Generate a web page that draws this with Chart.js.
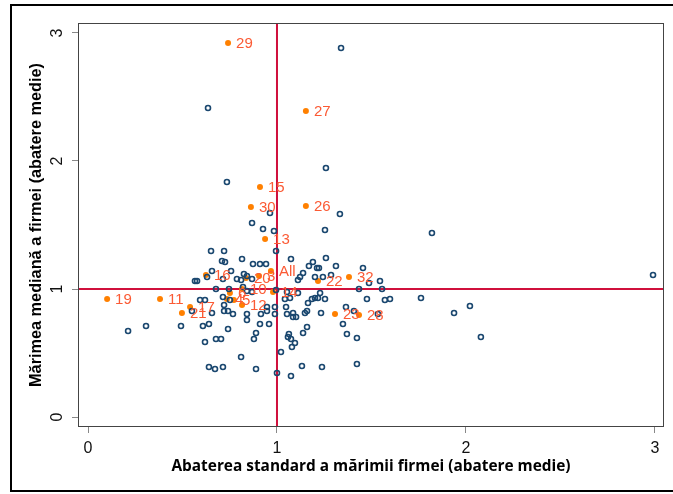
<!DOCTYPE html>
<html>
<head>
<meta charset="utf-8">
<script src="https://cdn.jsdelivr.net/npm/chart.js@4.4.1/dist/chart.umd.min.js"></script>
<style>
  body { margin: 0; background: #fff; }
  #wrap { width: 673px; height: 494px; }
</style>
</head>
<body>
<div id="wrap"><canvas id="myChart" width="673" height="494"></canvas></div>
<script>
// axis ticks and reference lines (mean = 1)
const xTicks = [0, 1, 2, 3];
const yTicks = [0, 1, 2, 3];
const refX = 1;
const refY = 1;

// all firms / industries (hollow navy circles)
const firmX = [1.339, 0.635, 1.259, 0.735, 1.333, 0.963, 0.868, 0.926, 0.984, 1.820, 2.990, 1.762, 1.937, 2.021, 2.079, 0.212, 0.307, 0.492, 0.995, 1.074, 1.254,
  0.651, 0.720, 0.815, 0.709, 0.725, 0.656, 0.757, 0.873, 0.910, 0.942, 0.825, 0.841, 0.868, 0.788, 0.810, 0.714, 0.566, 0.577, 0.630, 0.677,
  0.746, 0.820, 0.841, 0.868, 0.593, 0.619, 0.714, 0.751, 0.720, 0.550, 0.656, 0.720, 0.741, 0.767, 0.841, 0.915, 0.947, 0.989, 0.947, 0.989,
  0.608, 0.640, 0.741, 0.841, 0.910, 0.958, 0.889, 0.677, 0.704, 0.619, 0.878, 0.810, 0.640, 0.672, 0.714, 0.889, 1.000,
  1.169, 1.190, 1.212, 1.222, 1.259, 1.312, 1.455, 1.138, 1.122, 1.111, 1.201, 1.243, 1.286, 1.487, 1.545, 1.434, 1.556, 1.111, 1.228, 1.053,
  1.069, 1.042, 1.164, 1.185, 1.201, 1.217, 1.254, 1.476, 1.571, 1.598, 1.048, 1.159, 1.148, 1.085, 1.053, 1.101, 1.085, 1.233, 1.365, 1.407,
  1.534, 1.349, 1.159, 1.063, 1.138, 1.058, 1.074, 1.095, 1.079, 1.370, 1.423, 1.021, 1.132, 1.238, 1.423, 1.074, 0.995];
const firmY = [2.883, 2.414, 1.945, 1.836, 1.586, 1.594, 1.516, 1.469, 1.453, 1.438, 1.109, 0.930, 0.813, 0.867, 0.625, 0.672, 0.711, 0.711, 1.297, 1.234, 1.461,
  1.297, 1.297, 1.234, 1.219, 1.211, 1.141, 1.141, 1.195, 1.195, 1.195, 1.117, 1.102, 1.078, 1.078, 1.070, 1.078, 1.063, 1.063, 1.094, 1.000,
  1.000, 1.016, 0.984, 0.977, 0.914, 0.914, 0.938, 0.914, 0.875, 0.828, 0.813, 0.828, 0.828, 0.805, 0.805, 0.805, 0.859, 0.859, 0.828, 0.805,
  0.711, 0.727, 0.688, 0.758, 0.727, 0.727, 0.656, 0.609, 0.609, 0.586, 0.609, 0.469, 0.391, 0.375, 0.391, 0.375, 0.344,
  1.180, 1.211, 1.164, 1.164, 1.242, 1.180, 1.164, 1.125, 1.094, 1.070, 1.094, 1.094, 1.109, 1.047, 1.063, 1.000, 1.000, 0.969, 0.969, 0.977,
  0.930, 0.922, 0.891, 0.922, 0.930, 0.930, 0.922, 0.922, 0.914, 0.922, 0.859, 0.828, 0.813, 0.813, 0.805, 0.781, 0.781, 0.813, 0.859, 0.828,
  0.805, 0.727, 0.703, 0.648, 0.656, 0.625, 0.609, 0.578, 0.547, 0.648, 0.617, 0.508, 0.398, 0.391, 0.414, 0.320, 0.992];

// labelled groups (orange dots)
const groupLabels = ["29", "27", "15", "30", "26", "13", "16", "20", "3", "All", "22", "32", "14", "10", "19", "11", "17", "21", "23", "28", "12", "4", "5", "6"];
const groupX = [0.741, 1.153, 0.910, 0.862, 1.153, 0.937, 0.624, 0.836, 0.905, 0.968, 1.217, 1.381, 0.979, 0.815, 0.101, 0.381, 0.540, 0.497, 1.307, 1.434, 0.815, 0.735, 0.772, 0.751];
const groupY = [2.922, 2.391, 1.797, 1.641, 1.648, 1.391, 1.109, 1.086, 1.102, 1.141, 1.063, 1.094, 0.977, 1.000, 0.922, 0.922, 0.859, 0.813, 0.805, 0.797, 0.875, 0.922, 0.914, 0.969];

const navy = "#1a476f";
const orange = "#ff8000";
const labelColor = "#fb5a34";
const refColor = "#d0103c";

const framePlugin = {
  id: "frame",
  afterDraw(chart) {
    const ctx = chart.ctx;
    ctx.save();
    ctx.strokeStyle = "#000";
    ctx.lineWidth = 2;
    ctx.strokeRect(11, 5, 690, 486);
    const a = chart.chartArea;
    ctx.strokeStyle = "#444";
    ctx.lineWidth = 1;
    ctx.strokeRect(a.left + 0.5, a.top + 0.5, a.right - a.left - 1, a.bottom - a.top - 1);
    ctx.restore();
  }
};

const refLines = {
  id: "refLines",
  beforeDatasetsDraw(chart) {
    const ctx = chart.ctx;
    const a = chart.chartArea;
    const px = chart.scales.x.getPixelForValue(refX);
    const py = chart.scales.y.getPixelForValue(refY);
    ctx.save();
    ctx.strokeStyle = refColor;
    ctx.lineWidth = 2;
    ctx.beginPath();
    ctx.moveTo(px, a.top);
    ctx.lineTo(px, a.bottom);
    ctx.moveTo(a.left, py);
    ctx.lineTo(a.right, py);
    ctx.stroke();
    ctx.restore();
  }
};

const pointLabels = {
  id: "pointLabels",
  afterDatasetsDraw(chart) {
    const ctx = chart.ctx;
    const meta = chart.getDatasetMeta(1);
    ctx.save();
    ctx.font = "15px 'Liberation Sans', Arial, sans-serif";
    ctx.fillStyle = labelColor;
    ctx.textBaseline = "middle";
    ctx.textAlign = "left";
    meta.data.forEach((pt, i) => {
      ctx.fillText(groupLabels[i], pt.x + 8, pt.y + 1);
    });
    ctx.restore();
  }
};

const tickFont = { family: "'Liberation Sans', Arial, sans-serif", size: 16 };

const config = {
  type: "scatter",
  data: {
    datasets: [
      {
        label: "firms",
        data: firmX.map((x, i) => ({ x: x, y: firmY[i] })),
        pointRadius: 2.5,
        pointBorderWidth: 1.6,
        pointBorderColor: navy,
        pointBackgroundColor: "rgba(0,0,0,0)"
      },
      {
        label: "groups",
        data: groupX.map((x, i) => ({ x: x, y: groupY[i] })),
        pointRadius: 3,
        pointBorderWidth: 0,
        pointBackgroundColor: orange,
        pointBorderColor: orange
      }
    ]
  },
  options: {
    responsive: false,
    animation: false,
    layout: { padding: { left: 0, right: 9, top: 23, bottom: 0 } },
    plugins: { legend: { display: false }, tooltip: { enabled: false } },
    scales: {
      x: {
        type: "linear",
        min: -0.053,
        max: 3.048,
        afterBuildTicks: (s) => { s.ticks = xTicks.map((v) => ({ value: v })); },
        afterFit: (s) => { s.height = 67; },
        grid: { drawOnChartArea: false, drawTicks: true, tickLength: 6, color: "#888" },
        border: { display: false },
        ticks: { font: tickFont, color: "#111", padding: 6, maxRotation: 0, autoSkip: false },
        title: {
          display: true,
          text: "Abaterea standard a mărimii firmei (abatere medie)",
          font: { family: "'Open Sans', sans-serif", size: 15.4, weight: "bold" },
          color: "#000",
          padding: { top: 0, bottom: 18 }
        }
      },
      y: {
        type: "linear",
        min: -0.078,
        max: 3.078,
        afterBuildTicks: (s) => { s.ticks = yTicks.map((v) => ({ value: v })); },
        afterFit: (s) => { s.width = 78; },
        grid: { drawOnChartArea: false, drawTicks: true, tickLength: 6, color: "#888" },
        border: { display: false },
        ticks: { font: tickFont, color: "#111", padding: 10, minRotation: 90, maxRotation: 90, crossAlign: "center", autoSkip: false },
        title: {
          display: true,
          text: "Mărimea mediană a firmei (abatere medie)",
          font: { family: "'Liberation Sans', Arial, sans-serif", size: 16.3, weight: "bold" },
          color: "#000",
          padding: { top: 27, bottom: 0 }
        }
      }
    }
  },
  plugins: [refLines, pointLabels, framePlugin]
};

window.onload = () => {
  new Chart(document.getElementById("myChart"), config);
};
</script>
</body>
</html>
